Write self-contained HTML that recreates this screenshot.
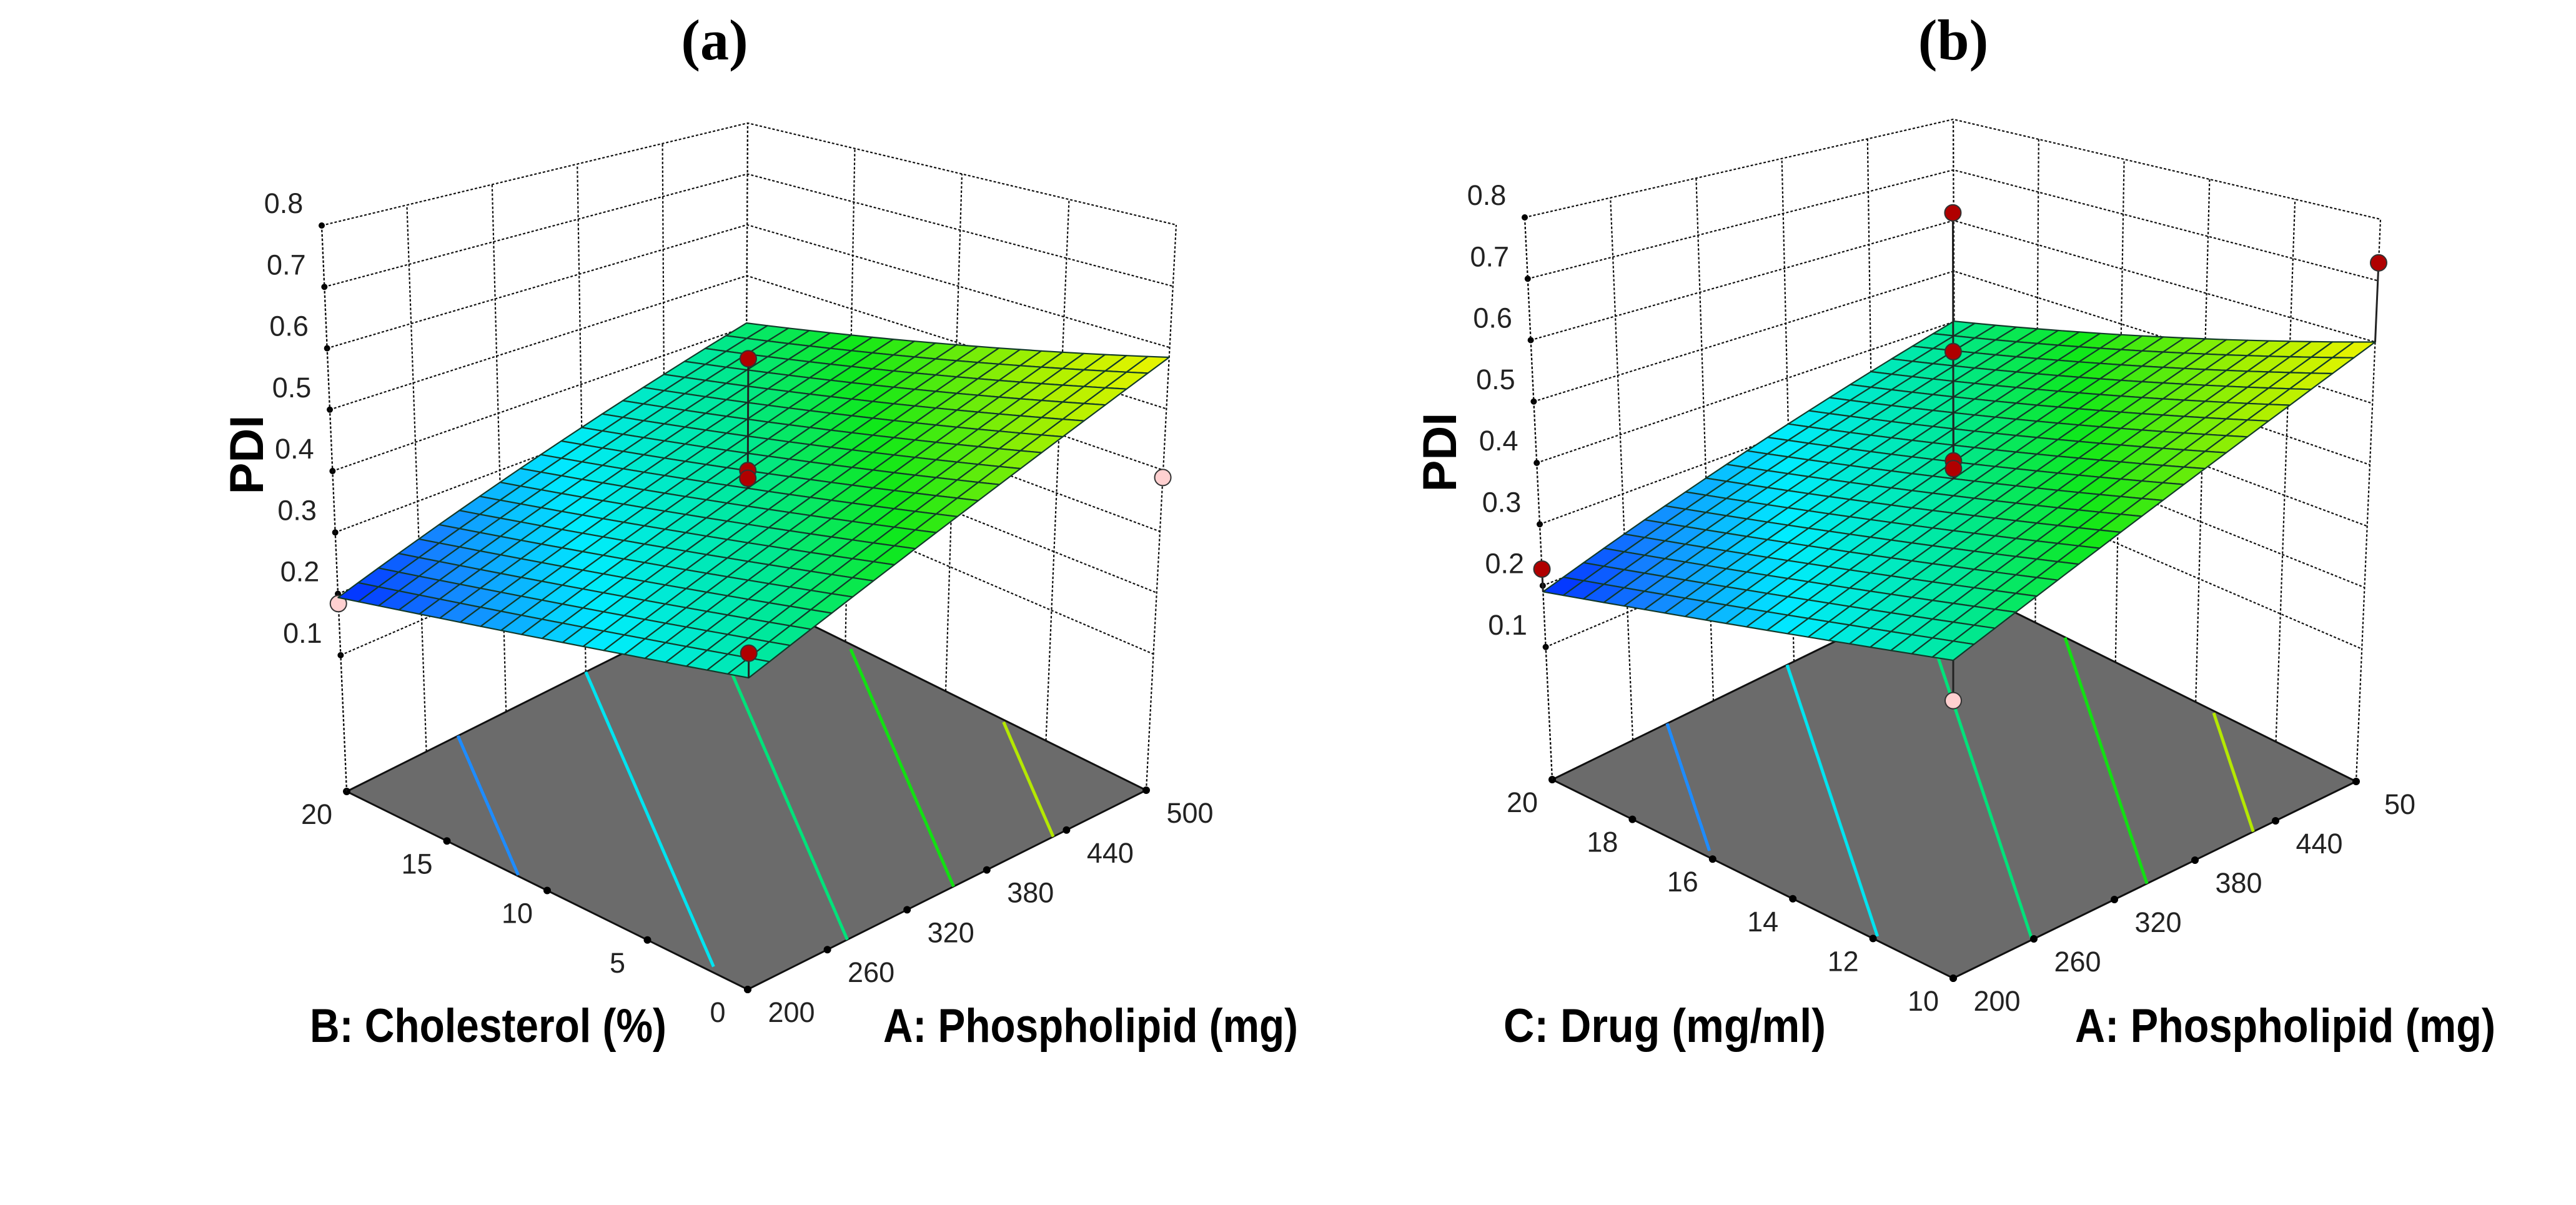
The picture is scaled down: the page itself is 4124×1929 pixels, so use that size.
<!DOCTYPE html>
<html><head><meta charset="utf-8">
<style>
html,body{margin:0;padding:0;background:#fff;}
svg{display:block;}
.tick{font-family:"Liberation Sans",sans-serif;font-size:45px;fill:#222;}
.ttl{font-family:"Liberation Sans",sans-serif;font-weight:bold;font-size:76px;fill:#000;}
.hdr{font-family:"Liberation Serif",serif;font-weight:bold;font-size:92px;fill:#000;}
</style></head>
<body>
<svg id="fig" width="4124" height="1929" viewBox="0 0 4124 1929" xmlns="http://www.w3.org/2000/svg">
<text class="hdr" x="1144" y="95" text-anchor="middle">(a)</text>
<text class="hdr" x="3127" y="95" text-anchor="middle">(b)</text>
<g id="chartA"></g>
<g id="chartB"></g>
</svg>
<script>
// ---- Data: chart (a) ----
const aTicksA = [200, 260, 320, 380, 440, 500];
const bTicksA = [0, 5, 10, 15, 20];
const zTicks = [0.1, 0.2, 0.3, 0.4, 0.5, 0.6, 0.7, 0.8];
// surface corner PDI values: [front(A lo,B lo), right(A hi,B lo), left(A lo,B hi), back(A hi,B hi)]
const surfA = [0.371, 0.584, 0.194, 0.407];
const contourSurfA = [0.371, 0.611, 0.215, 0.455];
const contourLevelsA = [0.282, 0.359, 0.431, 0.495, 0.555];
const ptsUA = [0.5, 0.5, 0.5, 0, 0, 1];
const ptsVA = [0.5, 0.5, 0.5, 0, 1, 0];
const ptsZA = [0.608, 0.419, 0.406, 0.41, 0.184, 0.388];
// ---- Data: chart (b) ----
const aTicksB = [200, 260, 320, 380, 440, 500];
const aLabelsB = ["200", "260", "320", "380", "440", "50"];
const cTicksB = [10, 12, 14, 16, 18, 20];
const surfB = [0.389, 0.60, 0.19, 0.401];
const contourSurfB = [0.389, 0.624, 0.221, 0.456];
const contourLevelsB = [0.288, 0.358, 0.435, 0.502, 0.564];
const ptsUB = [0.5, 0.5, 0.5, 0.5, 0, 1, 0];
const ptsVB = [0.5, 0.5, 0.5, 0.5, 0, 0, 1];
const ptsZB = [0.845, 0.61, 0.425, 0.412, 0.325, 0.729, 0.227];
const contourColors = ["#1e8cff", "#00e4f0", "#00e27a", "#12e012", "#b4e800"];

const NS = "http://www.w3.org/2000/svg";
function mk(parent, tag, attrs) {
  const e = document.createElementNS(NS, tag);
  for (const k in attrs) e.setAttribute(k, attrs[k]);
  parent.appendChild(e);
  return e;
}
const stops = [[0,[0,40,255]],[0.13,[20,130,255]],[0.3,[0,236,255]],[0.5,[0,232,150]],[0.66,[16,232,24]],[0.86,[170,240,0]],[1,[240,244,0]]];
function cmap(t) {
  t = Math.max(0, Math.min(1, t));
  for (let i = 1; i < stops.length; i++) {
    if (t <= stops[i][0]) {
      const a = stops[i-1], b = stops[i], f = (t - a[0]) / (b[0] - a[0]);
      const c = a[1].map((x, j) => Math.round(x + (b[1][j] - x) * f));
      return "rgb(" + c.join(",") + ")";
    }
  }
  return "rgb(240,244,0)";
}

function drawChart(g, cfg) {
  const zmin = cfg.zmin, zmax = 0.8;
  const F = cfg.floor, T = cfg.top;
  function bil(P, u, v) {
    return [
      P[0][0]*(1-u)*(1-v) + P[1][0]*u*(1-v) + P[2][0]*(1-u)*v + P[3][0]*u*v,
      P[0][1]*(1-u)*(1-v) + P[1][1]*u*(1-v) + P[2][1]*(1-u)*v + P[3][1]*u*v];
  }
  function proj(u, v, z) {
    const f = bil(F, u, v), t = bil(T, u, v), s = (z - zmin) / (zmax - zmin);
    return [f[0] + (t[0]-f[0])*s, f[1] + (t[1]-f[1])*s];
  }
  const S = cfg.surf, C = cfg.csurf;
  function zs(u, v) { return S[0]*(1-u)*(1-v) + S[1]*u*(1-v) + S[2]*(1-u)*v + S[3]*u*v; }
  function zc(u, v) { return C[0]*(1-u)*(1-v) + C[1]*u*(1-v) + C[2]*(1-u)*v + C[3]*u*v; }
  const zlo = Math.min(...S), zhi = Math.max(...S);
  const pt = p => p[0].toFixed(1) + "," + p[1].toFixed(1);
  const dash = {stroke:"#111", "stroke-width":2.2, "stroke-dasharray":"4,3", fill:"none"};

  const wall = mk(g, "g", {});
  
  
  cfg.zTicks.forEach(z => {
    mk(wall, "polyline", Object.assign({points: [proj(0,1,z),proj(1,1,z),proj(1,0,z)].map(pt).join(" ")}, dash));
  });
  cfg.xTicks.forEach((x, i) => {
    const u = i / (cfg.xTicks.length - 1);
    mk(wall, "line", Object.assign({x1:proj(u,1,zmin)[0], y1:proj(u,1,zmin)[1], x2:proj(u,1,zmax)[0], y2:proj(u,1,zmax)[1]}, dash));
  });
  cfg.yTicks.forEach((y, i) => {
    const v = i / (cfg.yTicks.length - 1);
    mk(wall, "line", Object.assign({x1:proj(1,v,zmin)[0], y1:proj(1,v,zmin)[1], x2:proj(1,v,zmax)[0], y2:proj(1,v,zmax)[1]}, dash));
  });
  const zax = mk(g, "g", {});
  
  
  cfg.zTicks.forEach(z => {
    const p = proj(0,1,z);
    mk(zax, "circle", {cx:p[0], cy:p[1], r:5, fill:"#000"});
    const t = mk(zax, "text", {x:p[0]-61, y:p[1]-20, "text-anchor":"middle", class:"tick"});
    t.textContent = z.toFixed(1);
    
    
  });
  const fl = mk(g, "polygon", {points:[proj(0,0,zmin),proj(1,0,zmin),proj(1,1,zmin),proj(0,1,zmin)].map(pt).join(" "), fill:"#6b6b6b", stroke:"#111", "stroke-width":3});
  
  
  cfg.levels.forEach((L, li) => {
    const seg = [];
    for (let k = 0; k <= 40; k++) {
      const v = k / 40;
      const z0 = zc(0, v), z1 = zc(1, v);
      const u = (L - z0) / (z1 - z0);
      if (u >= 0 && u <= 1) seg.push(proj(u, v, zmin));
    }
    seg.sort((a, b) => a[1] - b[1]);
    const c = mk(g, "polyline", {points: seg.map(pt).join(" "), stroke: contourColors[li], "stroke-width":5, fill:"none"});
    
    
  });
  cfg.xTicks.forEach((x, i) => {
    const u = i / (cfg.xTicks.length - 1), p = proj(u, 0, zmin);
    mk(g, "circle", {cx:p[0], cy:p[1], r:6, fill:"#000"});
    const t = mk(g, "text", {x:p[0]+70, y:p[1]+52, "text-anchor":"middle", class:"tick"});
    t.textContent = cfg.xLabels[i];
    
    
  });
  cfg.yTicks.forEach((y, i) => {
    const v = i / (cfg.yTicks.length - 1), p = proj(0, v, zmin);
    mk(g, "circle", {cx:p[0], cy:p[1], r:6, fill:"#000"});
    const t = mk(g, "text", {x:p[0]-48, y:p[1]+52, "text-anchor":"middle", class:"tick"});
    t.textContent = y;
    
    
  });
  mk(g, "line", Object.assign({x1:proj(0,1,zmin)[0], y1:proj(0,1,zmin)[1], x2:proj(0,1,zmax)[0], y2:proj(0,1,zmax)[1]}, dash));
  const N = 20;
  const pts = cfg.pu.map((u, i) => ({u, v: cfg.pv[i], z: cfg.pz[i]}));
  function drawPt(p, withLine) {
    const s = zs(p.u, p.v), a = proj(p.u, p.v, p.z), b = proj(p.u, p.v, s);
    if (withLine) mk(g, "line", {x1:a[0], y1:a[1], x2:b[0], y2:b[1], stroke:"#222", "stroke-width":3});
    const c = mk(g, "circle", {cx:a[0], cy:a[1], r:13, fill: p.z >= s ? "#b00000" : "#ffd0d0", stroke:"#333", "stroke-width":2});
    
    
  }
  pts.filter(p => p.z < zs(p.u, p.v)).forEach(p => drawPt(p, p.u === 0 && p.v === 0));
  const sg = mk(g, "g", {});
  
  
  for (let i = N-1; i >= 0; i--) for (let j = N-1; j >= 0; j--) {
    const u0 = i/N, u1 = (i+1)/N, v0 = j/N, v1 = (j+1)/N;
    const zm = zs((u0+u1)/2, (v0+v1)/2);
    mk(sg, "polygon", {points:[proj(u0,v0,zs(u0,v0)),proj(u1,v0,zs(u1,v0)),proj(u1,v1,zs(u1,v1)),proj(u0,v1,zs(u0,v1))].map(pt).join(" "),
      fill: cmap((zm - zlo)/(zhi - zlo)), stroke:"#123a2a", "stroke-width":2.2, "stroke-linejoin":"round"});
  }
  pts.filter(p => p.z >= zs(p.u, p.v)).forEach(p => drawPt(p, true));
  const tx = mk(g, "text", {x:cfg.xt[0], y:1668, class:"ttl", textLength:cfg.xt[1], lengthAdjust:"spacingAndGlyphs"});
  tx.textContent = cfg.xTitle;
  
  
  const ty = mk(g, "text", {x:cfg.yt[0], y:1668, class:"ttl", textLength:cfg.yt[1], lengthAdjust:"spacingAndGlyphs"});
  ty.textContent = cfg.yTitle;
  
  
  const tz = mk(g, "text", {x:0, y:0, class:"ttl", "text-anchor":"middle", transform:"translate(" + (cfg.zt[0]+26) + "," + cfg.zt[1] + ") rotate(-90)"});
  tz.textContent = "PDI";
  
  
}

drawChart(document.getElementById("chartA"), {
  zmin: -0.122,
  floor: [[1197,1584],[1835,1265],[555,1267],[1193,948]],
  top: [[1200,651],[1883,360],[515,361],[1197,197]],
  surf: surfA, csurf: contourSurfA, levels: contourLevelsA, zTicks: zTicks,
  xTicks: aTicksA, xLabels: aTicksA.map(String), yTicks: bTicksA,
  pu: ptsUA, pv: ptsVA, pz: ptsZA,
  xTitle: "A: Phospholipid (mg)", xt: [1414, 664],
  yTitle: "B: Cholesterol (%)", yt: [496, 571],
  zt: [395, 728]
});
drawChart(document.getElementById("chartB"), {
  zmin: -0.116,
  floor: [[3127,1566],[3772,1251],[2485,1248],[3130,933]],
  top: [[3127,643],[3811,351],[2441,348],[3127,191]],
  surf: surfB, csurf: contourSurfB, levels: contourLevelsB, zTicks: zTicks,
  xTicks: aTicksB, xLabels: aLabelsB, yTicks: cTicksB,
  pu: ptsUB, pv: ptsVB, pz: ptsZB,
  xTitle: "A: Phospholipid (mg)", xt: [3322, 673],
  yTitle: "C: Drug (mg/ml)", yt: [2407, 516],
  zt: [2305, 724]
});
</script>
</body></html>
